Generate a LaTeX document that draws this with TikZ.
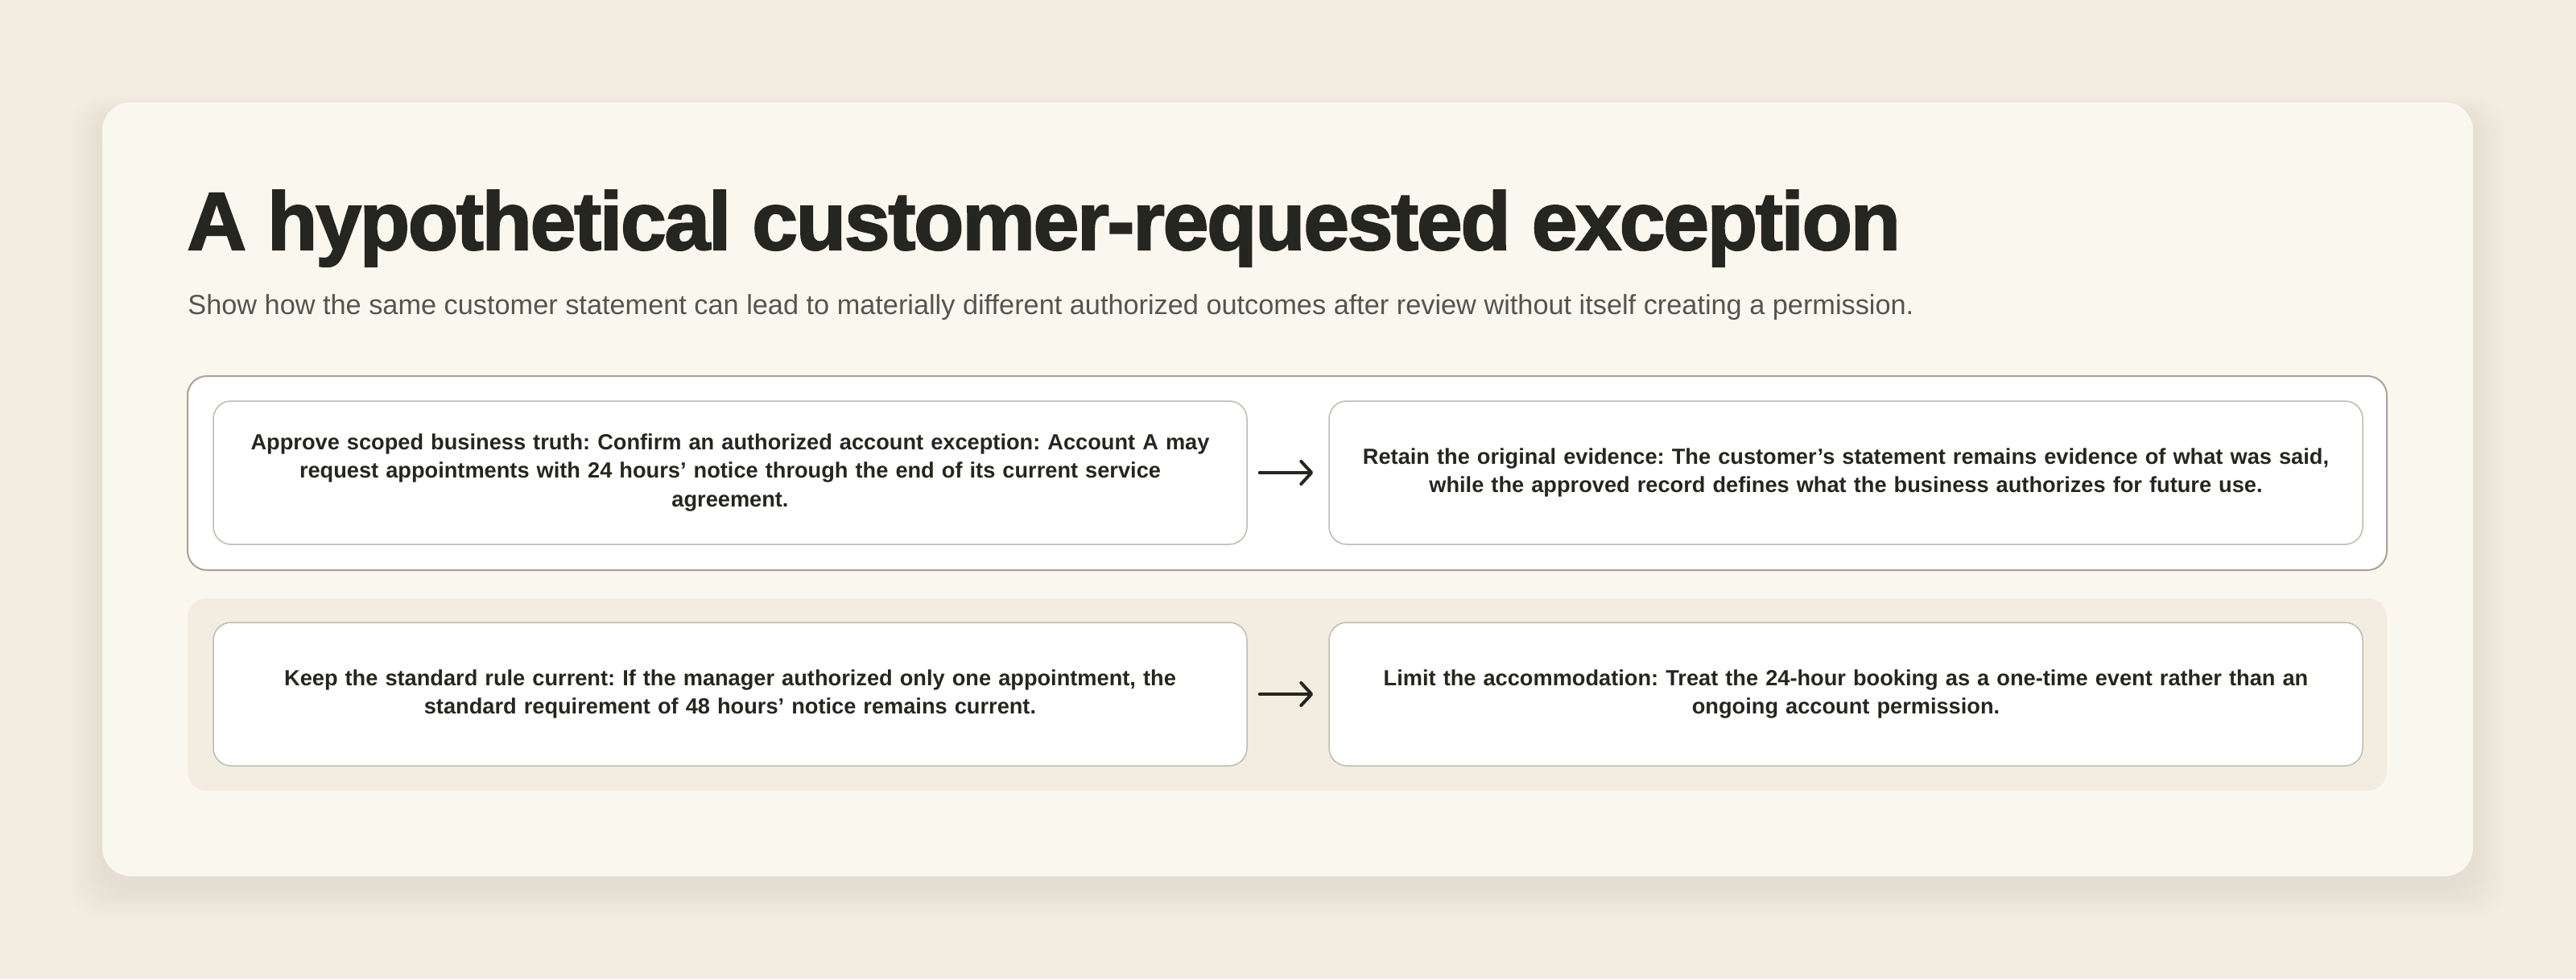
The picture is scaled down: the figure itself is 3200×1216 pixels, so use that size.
\documentclass[tikz,border=0pt]{standalone}
\usepackage{fontspec}
\setmainfont{Liberation Sans}
\newfontfamily\titlefont[LetterSpace=-2.2, BoldFeatures={FakeBold=2}]{Liberation Sans}
\usetikzlibrary{arrows.meta}
\definecolor{bg}{RGB}{243,236,224}
\definecolor{card}{RGB}{250,247,239}
\definecolor{band}{RGB}{242,237,224}
\definecolor{ink}{RGB}{38,38,32}
\definecolor{sub}{RGB}{85,84,78}
\definecolor{groupline}{RGB}{168,164,150}
\definecolor{boxline}{RGB}{190,187,178}
\tikzset{
  stepbox/.style={draw=boxline, fill=white, line width=0.75pt, rounded corners=11pt,
    minimum width=642pt, minimum height=89pt, text width=640pt, align=center,
    inner sep=0pt, text=ink, font=\fontsize{13.6pt}{17.75pt}\selectfont\bfseries},
  flowarrow/.style={draw=ink, line width=2pt, line cap=round,
    -{Straight Barb[length=6.5pt,width=14pt,round]}, shorten <=7.5pt, shorten >=9.5pt}
}
\frenchspacing
\begin{document}
\frenchspacing
\begin{tikzpicture}[x=0.5pt,y=-0.5pt]
\useasboundingbox (0,0) rectangle (3200,1216);
\fill[bg] (0,0) rectangle (3200,1216);
% soft shadow
\foreach \i in {1,...,14}{
  \fill[black, opacity=0.0035, rounded corners=20pt]
    ({127-\i*3},{127-\i*1.5+14}) rectangle ({3072+\i*3},{1088+\i*3+14});
}
\fill[card, rounded corners=17.5pt] (127,127) rectangle (3072,1088);
% title and subtitle
\node[anchor=base west, inner sep=0pt, text=ink,
  font=\titlefont\fontsize{51pt}{60pt}\selectfont\bfseries] (title) at (232,310)
  {A hypothetical customer-requested exception};
\node[anchor=base west, inner sep=0pt, text=sub,
  font=\fontsize{17.15pt}{20pt}\selectfont] (subtitle) at (233,390)
  {Show how the same customer statement can lead to materially different authorized outcomes after review without itself creating a permission.};
% groups
\draw[groupline, fill=white, line width=1pt, rounded corners=12pt] (233,467) rectangle (2965,708);
\fill[band, rounded corners=12pt] (233,743) rectangle (2965,982);
% boxes
\node[stepbox] (a1) at (907,587) {Approve scoped business truth: Confirm an authorized account exception: Account A may\\ request appointments with 24 hours’ notice through the end of its current service\\ agreement.};
\node[stepbox] (a2) at (2293,587) {Retain the original evidence: The customer’s statement remains evidence of what was said,\\ while the approved record defines what the business authorizes for future use.};
\node[stepbox] (b1) at (907,862) {Keep the standard rule current: If the manager authorized only one appointment, the\\ standard requirement of 48 hours’ notice remains current.};
\node[stepbox] (b2) at (2293,862) {Limit the accommodation: Treat the 24-hour booking as a one-time event rather than an\\ ongoing account permission.};
\draw[flowarrow] (a1) -- (a2);
\draw[flowarrow] (b1) -- (b2);
\end{tikzpicture}
\end{document}
